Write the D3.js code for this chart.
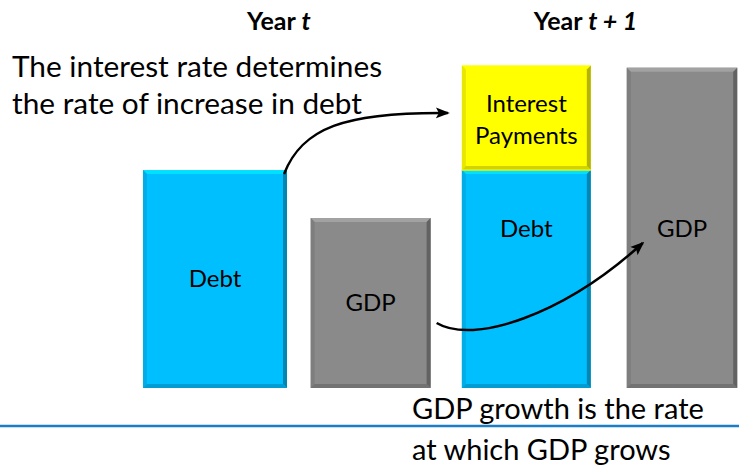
<!DOCTYPE html>
<html>
<head>
<meta charset="utf-8">
<script src="https://cdn.jsdelivr.net/npm/d3@7"></script>
<style>
  body { margin: 0; background: #fff; }
  svg { display: block; font-family: Lato, 'Open Sans', sans-serif; }
</style>
</head>
<body>
<div id="chart"></div>
<script>
// Data
const barIds = ['debt_t', 'gdp_t', 'debt_t1', 'gdp_t1'];
const barYears = ['t', 't', 't + 1', 't + 1'];
const baseLabels = ['Debt', 'GDP', 'Debt', 'GDP'];
const baseKinds = ['debt', 'gdp', 'debt', 'gdp'];
const baseValues = [100, 78, 100, 147];
const interestValues = [0, 0, 48, 0];
const interestLabel = ['Interest', 'Payments'];
const yearTitles = ['t', 't + 1'];
const noteTop = ['The interest rate determines', 'the rate of increase in debt'];
const noteBottom = ['GDP growth is the rate', 'at which GDP grows'];

// Styles
const colors = { debt: '#00bfff', gdp: '#8a8a8a', interest: '#ffff00' };
const widthFactor = [1.108, 0.923, 0.992, 0.85];
const W = 739, H = 466;

const svg = d3.select('#chart').append('svg')
  .attr('width', W)
  .attr('height', H);

const x = d3.scaleBand()
  .domain(barIds)
  .range([150, 747])
  .paddingInner(0.165)
  .paddingOuter(0);

const y = d3.scaleLinear()
  .domain([0, 150.5])
  .range([388, 60]);

// bar geometry from scales
const bars = barIds.map((id, i) => {
  const w = x.bandwidth() * widthFactor[i];
  const cx = x(id) + x.bandwidth() / 2;
  return {
    id, i, x0: cx - w / 2, w, cx,
    base: baseValues[i], interest: interestValues[i],
    label: baseLabels[i], kind: baseKinds[i], year: barYears[i]
  };
});

// beveled block
function block(g, x0, y0, w, h, color, b) {
  const c = d3.color(color);
  g.append('rect')
    .attr('x', x0).attr('y', y0)
    .attr('width', w).attr('height', h)
    .attr('fill', color);
  const x1 = x0 + w, y1 = y0 + h;
  const edges = [
    { pts: [[x0, y0], [x1, y0], [x1 - b, y0 + b], [x0 + b, y0 + b]], fill: c.brighter(0.55) },
    { pts: [[x0, y0], [x0 + b, y0 + b], [x0 + b, y1 - b], [x0, y1]], fill: c.darker(0.35) },
    { pts: [[x1, y0], [x1, y1], [x1 - b, y1 - b], [x1 - b, y0 + b]], fill: c.darker(1.3) },
    { pts: [[x0, y1], [x0 + b, y1 - b], [x1 - b, y1 - b], [x1, y1]], fill: c.darker(0.7) }
  ];
  g.selectAll(null)
    .data(edges)
    .enter().append('polygon')
    .attr('points', d => d.pts.map(p => p.join(',')).join(' '))
    .attr('fill', d => d.fill)
    .attr('opacity', 0.8);
}

const gBars = svg.append('g');
bars.forEach(d => {
  block(gBars, d.x0, y(d.base), d.w, y(0) - y(d.base), colors[d.kind], 4);
  if (d.interest > 0) {
    block(gBars, d.x0, y(d.base + d.interest), d.w, y(d.base) - y(d.base + d.interest), colors.interest, 4);
    gBars.append('line')
      .attr('x1', d.x0).attr('x2', d.x0 + d.w)
      .attr('y1', y(d.base)).attr('y2', y(d.base))
      .attr('stroke', '#f2f200').attr('stroke-width', 1.5);
  }
});

// bar labels
const labelSize = 24;
bars.forEach(d => {
  const ly = d.year === 't'
    ? (y(d.base) + y(0)) / 2 + labelSize * 0.35
    : y(baseValues[2]) + 67;
  svg.append('text')
    .attr('x', d.cx).attr('y', ly)
    .attr('text-anchor', 'middle')
    .attr('font-size', labelSize)
    .attr('fill', '#000')
    .text(d.label);
  if (d.interest > 0) {
    const mid = (y(d.base) + y(d.base + d.interest)) / 2;
    svg.append('text')
      .attr('x', d.cx)
      .attr('text-anchor', 'middle')
      .attr('font-size', labelSize)
      .selectAll('tspan')
      .data(interestLabel)
      .enter().append('tspan')
      .attr('x', d.cx)
      .attr('y', (l, k) => mid + 10 + (k - 0.5) * 32)
      .text(l => l);
  }
});

// year titles
const pairs = [[bars[0], bars[1]], [bars[2], bars[3]]];
yearTitles.forEach((t, k) => {
  const [a, b] = pairs[k];
  const cx = (a.x0 + b.x0 + b.w) / 2 - (k === 0 ? 8 : 14);
  const txt = svg.append('text')
    .attr('x', cx).attr('y', 30)
    .attr('text-anchor', 'middle')
    .attr('font-size', 25)
    .attr('font-weight', 'bold');
  txt.append('tspan').text('Year ');
  txt.append('tspan').attr('font-style', 'italic').text(t);
});

// notes
svg.append('text')
  .attr('font-size', 29.8)
  .selectAll('tspan')
  .data(noteTop)
  .enter().append('tspan')
  .attr('x', 12)
  .attr('y', (l, k) => 77 + k * 37)
  .text(l => l);

svg.append('line')
  .attr('x1', 0).attr('x2', W)
  .attr('y1', 426).attr('y2', 426)
  .attr('stroke', '#1b7dc6')
  .attr('stroke-width', 2.5);

svg.append('text')
  .attr('font-size', 29)
  .selectAll('tspan')
  .data(noteBottom)
  .enter().append('tspan')
  .attr('x', 412)
  .attr('y', (l, k) => 419 + k * 41)
  .text(l => l);

// arrows
svg.append('defs').append('marker')
  .attr('id', 'head')
  .attr('markerUnits', 'userSpaceOnUse')
  .attr('viewBox', '0 -6 14 12')
  .attr('refX', 12).attr('refY', 0)
  .attr('markerWidth', 14).attr('markerHeight', 12)
  .attr('orient', 'auto')
  .append('path')
  .attr('d', 'M0,-5.5L14,0L0,5.5L3,0Z')
  .attr('fill', '#000');

const debtT = bars[0], gdpT = bars[1], stack = bars[2], gdpT1 = bars[3];
const a1 = d3.path();
const s1 = [debtT.x0 + debtT.w - 3, y(debtT.base) + 4];
const e1 = [stack.x0 - 14, 113];
a1.moveTo(s1[0], s1[1]);
a1.bezierCurveTo(s1[0] + 18, 128, s1[0] + 60, 112, e1[0], e1[1]);

const a2 = d3.path();
const s2 = [gdpT.x0 + gdpT.w + 6, 323];
const e2 = [gdpT1.x0 + 16, 243];
a2.moveTo(s2[0], s2[1]);
a2.bezierCurveTo(s2[0] + 37, 345, s2[0] + 127, 315, e2[0], e2[1]);

svg.selectAll('path.arrow')
  .data([a1.toString(), a2.toString()])
  .enter().append('path')
  .attr('class', 'arrow')
  .attr('d', d => d)
  .attr('fill', 'none')
  .attr('stroke', '#000')
  .attr('stroke-width', 2.5)
  .attr('marker-end', 'url(#head)');
</script>
</body>
</html>
